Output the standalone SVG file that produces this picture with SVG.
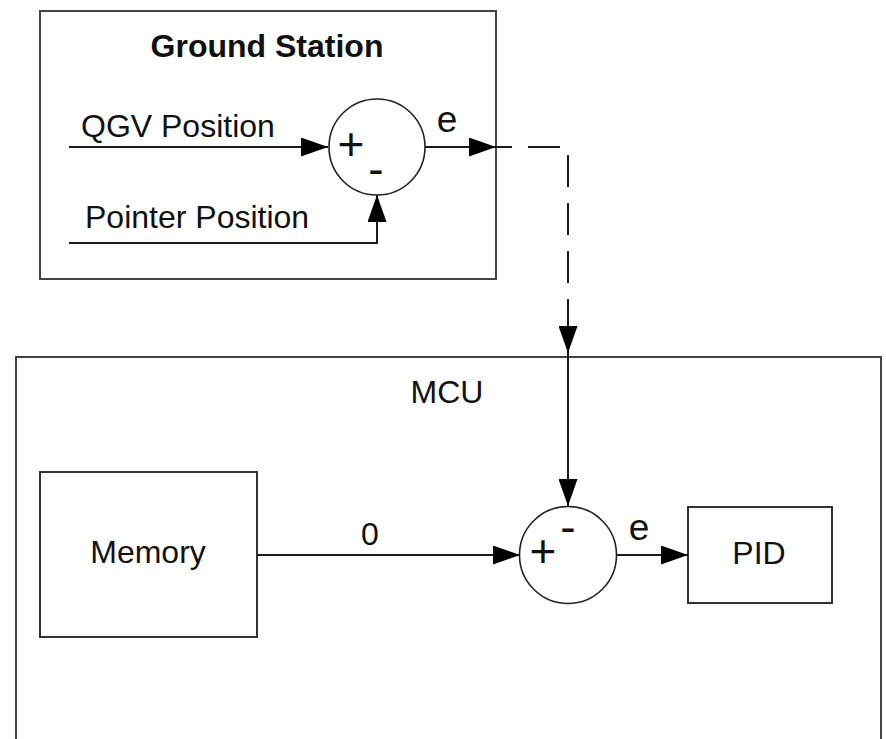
<svg xmlns="http://www.w3.org/2000/svg" width="886" height="739" viewBox="0 0 886 739">
<defs>
<style>
.box{fill:#fff;stroke:#333;stroke-width:2}
.bg{fill:none;stroke:#444;stroke-width:2}
.sum{fill:#fff;stroke:#222;stroke-width:1.6}
.ln{fill:none;stroke:#1a1a1a;stroke-width:2}
.dash{stroke-dasharray:32 16;stroke-dashoffset:16}
text{font-family:"Liberation Sans",Arial,sans-serif;font-size:32px;fill:#111}
.t{font-weight:bold}
.m{text-anchor:middle}
.e{font-size:37px;text-anchor:middle}
.sg{font-size:46px;text-anchor:middle}
</style>
<marker id="ah" markerUnits="userSpaceOnUse" markerWidth="27" markerHeight="19" refX="27" refY="9.5" orient="auto">
<path d="M0,0 L27,9.5 L0,19 z" fill="#000"/>
</marker>
</defs>
<rect width="886" height="739" fill="#fff"/>
<g id="ground-station">
<rect class="bg" x="40" y="11" width="456" height="268"/>
<text class="t m" x="267" y="57">Ground Station</text>
<text x="81" y="137">QGV Position</text>
<text x="85" y="228">Pointer Position</text>
</g>
<g id="sum-top">
<circle class="sum" cx="377" cy="147" r="48"/>
<text class="sg" x="351" y="160">+</text>
<text class="sg" x="376" y="185">-</text>
</g>
<g id="mcu">
<rect class="bg" x="16" y="357" width="865" height="385"/>
<text class="m" x="447" y="403">MCU</text>
</g>
<g id="memory">
<rect class="box" x="40" y="472" width="217" height="165"/>
<text class="m" x="148" y="563">Memory</text>
</g>
<g id="sum-bottom">
<circle class="sum" cx="568" cy="555" r="48.5"/>
<text class="sg" x="543" y="567">+</text>
<text class="sg" x="568" y="543">-</text>
</g>
<g id="pid">
<rect class="box" x="688" y="507" width="144" height="96"/>
<text class="m" x="759" y="564">PID</text>
</g>
<g id="connectors">
<path class="ln" d="M69,147 H328" marker-end="url(#ah)"/>
<path class="ln" d="M69,243 H377 V195" marker-end="url(#ah)"/>
<path class="ln" d="M425,147 H496" marker-end="url(#ah)"/>
<path class="ln dash" d="M496,147 H568 V353" marker-end="url(#ah)"/>
<path class="ln" d="M568,353 V506" marker-end="url(#ah)"/>
<path class="ln" d="M257,555 H520" marker-end="url(#ah)"/>
<path class="ln" d="M617,555 H688" marker-end="url(#ah)"/>
<text x="447" y="132" class="e">e</text>
<text x="639" y="540" class="e">e</text>
<text x="370" y="545" class="m">0</text>
</g>
</svg>
